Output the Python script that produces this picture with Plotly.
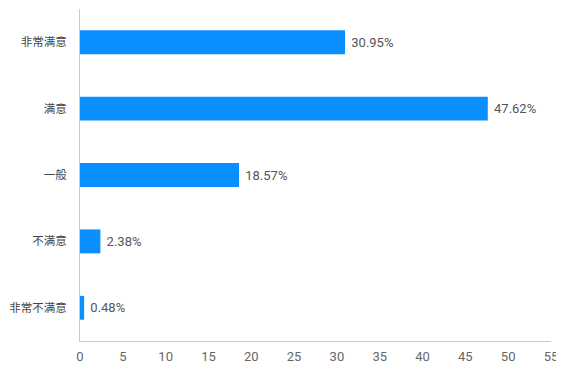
import plotly.graph_objects as go

categories = ["非常满意", "满意", "一般", "不满意", "非常不满意"]
values = [30.95, 47.62, 18.57, 2.38, 0.48]
labels = ["30.95%", "47.62%", "18.57%", "2.38%", "0.48%"]
x_ticks = [0, 5, 10, 15, 20, 25, 30, 35, 40, 45, 50, 55]

fig = go.Figure(go.Bar(
    y=categories, x=values, orientation="h",
    text=labels, texttemplate=" %{text}", textposition="outside", cliponaxis=False,
    textfont=dict(size=13, color="#555555"),
    marker=dict(color="#0A8FFF", line=dict(width=0)),
    width=0.36,
))
fig.update_layout(
    width=564, height=376,
    margin=dict(l=72, r=21, t=1, b=43, autoexpand=False),
    paper_bgcolor="white", plot_bgcolor="white",
    font=dict(family="Roboto, Noto Sans CJK SC, sans-serif", size=13, color="#555555"),
    showlegend=False,
    bargap=0.64,
)
fig.update_xaxes(range=[0, 55], tickvals=x_ticks, showgrid=False, zeroline=False,
                 showline=True, linecolor="#c8c8d0", linewidth=1, ticks="",
                 automargin=False, ticklabelstandoff=3,
                 tickfont=dict(size=13, color="#666666"))
fig.update_yaxes(categoryorder="array", categoryarray=categories[::-1],
                 showgrid=False, zeroline=False, showline=True, linecolor="#c8c8d0",
                 linewidth=1, ticks="", ticklabelstandoff=10, automargin=False,
                 tickfont=dict(size=11.5, color="#444444"))
fig.write_html("out.html")
